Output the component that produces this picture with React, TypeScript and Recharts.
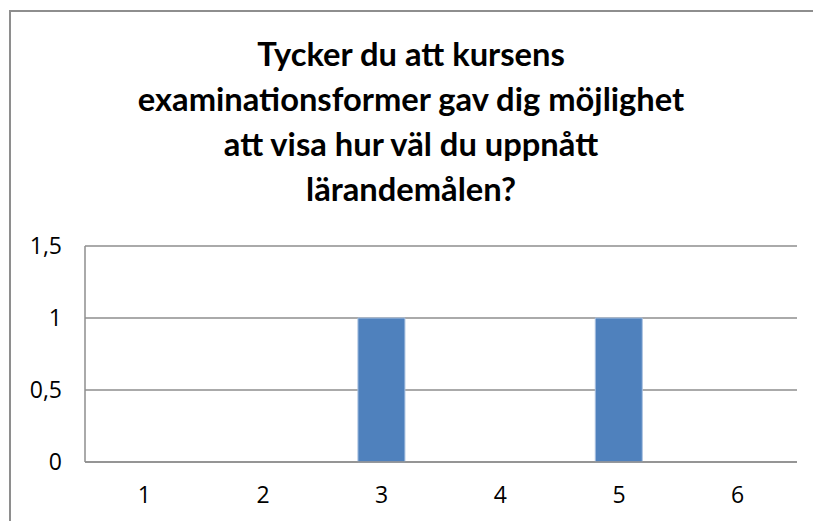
import { BarChart, Bar, XAxis, YAxis, CartesianGrid } from "recharts"

const categories = ["1", "2", "3", "4", "5", "6"]
const answers = [0, 0, 1, 0, 1, 0]
const yTicks = [0, 0.5, 1, 1.5]
const titleLines = [
  "Tycker du att kursens",
  "examinationsformer gav dig möjlighet",
  "att visa hur väl du uppnått",
  "lärandemålen?",
]

const chartData = categories.map((c, i) => ({ name: c, value: answers[i] }))

const fmt = (v: number) => String(v).replace(".", ",")

const tickFont = { fontSize: 23, fontFamily: "'Open Sans', sans-serif", fill: "#000" }

const XTick = (props: any) => {
  const { x, y, payload } = props
  return (
    <text x={x} y={y} dy="0.71em" textAnchor="middle" {...tickFont}>
      {payload.value}
    </text>
  )
}

const YTick = (props: any) => {
  const { x, y, payload } = props
  return (
    <text x={x} y={y} dy="0.355em" textAnchor="end" {...tickFont}>
      {fmt(payload.value)}
    </text>
  )
}

export default function App() {
  return (
    <div
      style={{
        position: "absolute",
        left: 9,
        top: 10,
        width: 812,
        height: 511,
        boxSizing: "border-box",
        borderTop: "2px solid #8e8e8e",
        borderLeft: "2px solid #8e8e8e",
        background: "#fff",
        fontFamily: "Lato, sans-serif",
      }}
    >
      <div
        style={{
          position: "absolute",
          top: 19,
          left: 0,
          width: 800,
          textAlign: "center",
          fontWeight: 700,
          fontSize: 32.7,
          lineHeight: "45px",
          color: "#000",
        }}
      >
        {titleLines.map((l) => (
          <div key={l}>{l}</div>
        ))}
      </div>
      <BarChart
        width={800}
        height={509}
        data={chartData}
        margin={{ top: 234, right: 14, left: 0, bottom: 19 }}
        barCategoryGap="30%"
      >
        <CartesianGrid vertical={false} stroke="#8e8e8e" strokeWidth={1.5} />
        <XAxis
          dataKey="name"
          height={40}
          tickLine={false}
          tickSize={0}
          tickMargin={25}
          axisLine={{ stroke: "#8e8e8e", strokeWidth: 1.5 }}
          tick={<XTick />}
        />
        <YAxis
          width={74}
          domain={[0, 1.5]}
          ticks={yTicks}
          tickLine={false}
          tickSize={0}
          tickMargin={23}
          axisLine={{ stroke: "#8e8e8e", strokeWidth: 1.5 }}
          tick={<YTick />}
        />
        <Bar dataKey="value" fill="#4f81bd" stroke="#a9c1e0" strokeWidth={1} isAnimationActive={false} />
      </BarChart>
    </div>
  )
}
